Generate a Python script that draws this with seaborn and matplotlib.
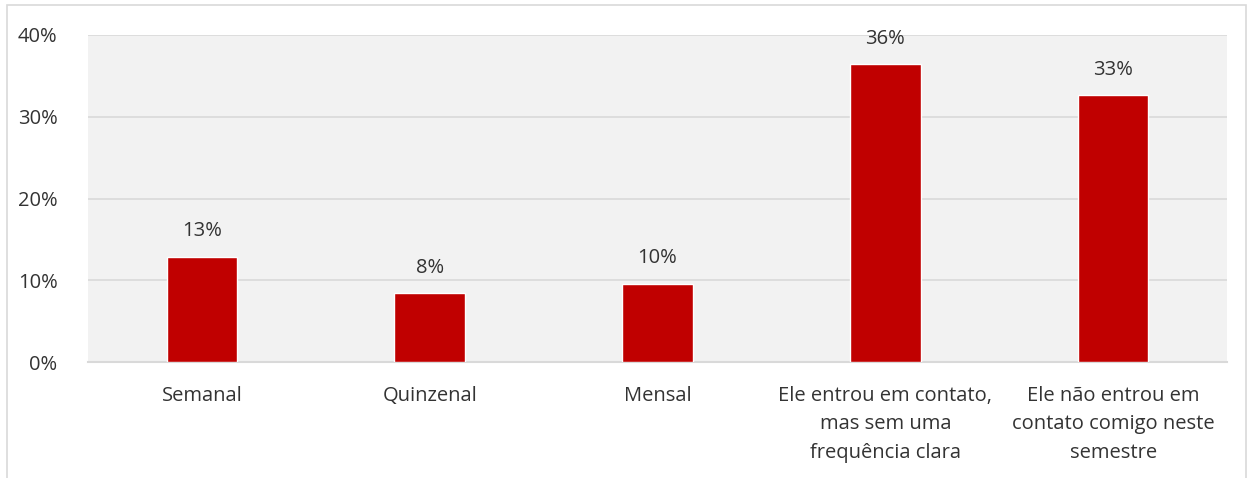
import pandas as pd
import seaborn as sns
import matplotlib.pyplot as plt
from matplotlib.patches import Rectangle
from matplotlib.ticker import PercentFormatter

categories = ['Semanal', 'Quinzenal', 'Mensal',
              'Ele entrou em contato,\nmas sem uma\nfrequência clara',
              'Ele não entrou em\ncontato comigo neste\nsemestre']
values = [12.9, 8.4, 9.6, 36.4, 32.6]

df = pd.DataFrame({'cat': categories, 'val': values})

sns.set_style('whitegrid')
plt.rcParams['font.family'] = ['Open Sans', 'DejaVu Sans']

fig = plt.figure(figsize=(12.53, 4.78), dpi=100)
ax = fig.add_axes([88 / 1253, 1 - 362 / 478, (1227 - 88) / 1253, (362 - 35) / 478])

sns.barplot(data=df, x='cat', y='val', color='#C00000', width=0.31,
            saturation=1, ax=ax, zorder=3)

ax.set_facecolor('#F2F2F2')
ax.set_ylim(0, 40)
ax.set_yticks([0, 10, 20, 30, 40])
ax.yaxis.set_major_formatter(PercentFormatter(decimals=0))
ax.grid(axis='y', color='#D9D9D9', linewidth=1.2, zorder=0)
ax.grid(axis='x', visible=False)
for s in ['top', 'right', 'left']:
    ax.spines[s].set_visible(False)
ax.spines['bottom'].set_color('#D9D9D9')
ax.spines['bottom'].set_linewidth(1.5)
ax.set_xlabel('')
ax.set_ylabel('')
ax.tick_params(axis='both', length=0, labelsize=14.5, colors='#333333')
ax.tick_params(axis='x', pad=17)
ax.tick_params(axis='y', pad=22)
for lbl in ax.get_xticklabels():
    lbl.set_linespacing(1.58)

for i, v in enumerate(values):
    ax.text(i, v + 3.1, f'{v:.0f}%', ha='center', va='center', fontsize=14.5, color='#333333')

fig.patches.append(Rectangle((7 / 1253, -0.1), 1239 / 1253, 1.1 - 5 / 478,
                             transform=fig.transFigure, fill=False,
                             edgecolor='#D9D9D9', linewidth=1.2))

fig.savefig('out.png', dpi=100)
